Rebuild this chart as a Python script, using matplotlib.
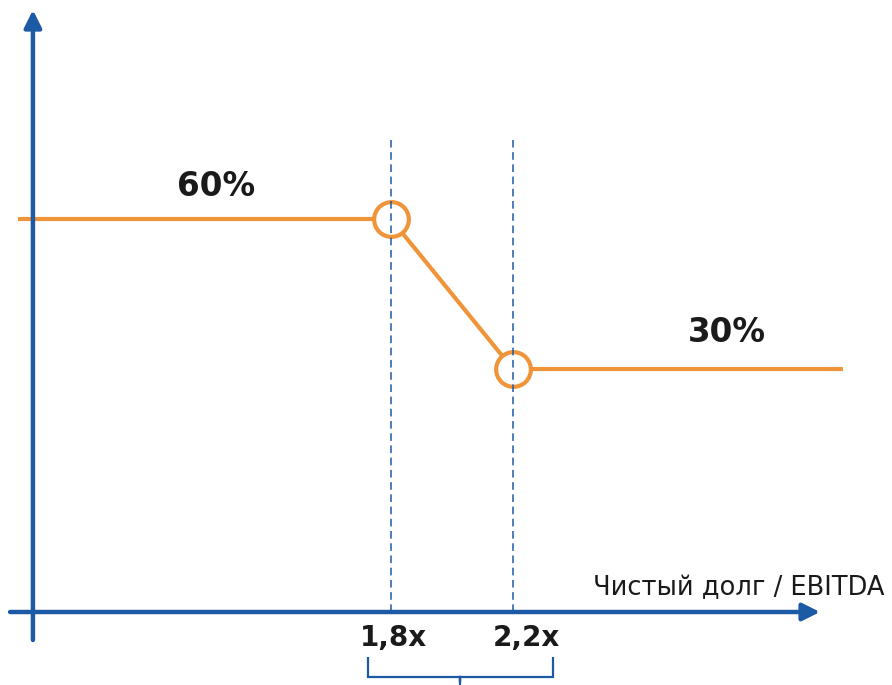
import matplotlib.pyplot as plt
from matplotlib.path import Path
from matplotlib.patches import PathPatch

# Dividend payout ratio vs. net debt / EBITDA
breakpoints = [1.8, 2.2]
payout = [60, 30]
tick_labels = ["1,8x", "2,2x"]
value_labels = ["60%", "30%"]
x_label = "Чистый долг / EBITDA"

BLUE = "#1d5aa6"
ORANGE = "#f0943a"

fig = plt.figure(figsize=(8.92, 6.85), dpi=100)
ax = fig.add_axes([0, 0, 1, 1])
ax.set_xlim(0.518, 3.443)
ax.set_ylim(-33.2, 103.8)
ax.axis("off")

x0, x1 = breakpoints
y_hi, y_lo = payout
x_start, x_end = 0.577, 3.282
axis_x, axis_y = 0.626, -18.6

# axes with arrows
ax.annotate("", xy=(axis_x, 101.8), xytext=(axis_x, -24.2),
            arrowprops=dict(arrowstyle="-|>", color=BLUE, lw=3.2,
                            mutation_scale=26, shrinkA=0, shrinkB=0))
ax.annotate("", xy=(3.207, axis_y), xytext=(0.551, axis_y),
            arrowprops=dict(arrowstyle="-|>", color=BLUE, lw=3.2,
                            mutation_scale=26, shrinkA=0, shrinkB=0))

# dashed guides at the breakpoints (drawn over the circles)
for bx in breakpoints:
    ax.plot([bx, bx], [axis_y, 75.8], color=BLUE, lw=1.1, ls=(0, (5, 3)), zorder=4)

# payout line
ax.plot([x_start, x0, x1, x_end], [y_hi, y_hi, y_lo, y_lo],
        color=ORANGE, lw=3, solid_capstyle="butt", zorder=2)
ax.plot(breakpoints, payout, "o", ms=25, mfc="white", mec=ORANGE, mew=3,
        ls="none", zorder=3)

# value labels
ax.text(1.226, y_hi + 6.5, value_labels[0], fontsize=23.5, fontweight="bold",
        color="#1a1a1a", ha="center", va="center")
ax.text(2.902, y_lo + 7.2, value_labels[1], fontsize=23.5, fontweight="bold",
        color="#1a1a1a", ha="center", va="center")

# tick labels
ax.text(x0 + 0.007, -23.8, tick_labels[0], fontsize=20, fontweight="bold",
        color="#1a1a1a", ha="center", va="center")
ax.text(x1 + 0.043, -23.8, tick_labels[1], fontsize=20, fontweight="bold",
        color="#1a1a1a", ha="center", va="center")

ax.text(3.42, -13.8, x_label, fontsize=18.5, color="#1a1a1a",
        ha="right", va="center")

# brace under the range
bl, br = x0 - 0.075, x1 + 0.131
bm = (bl + br) / 2
yt, yb = -27.6, -31.0
verts = [(bl, yt), (bl, yb), (bl, yb - 0.6), (bl + 0.01, yb - 0.6),
         (bm - 0.01, yb - 0.6), (bm, yb - 0.6), (bm, yb - 1.6),
         (bm, yb - 0.6), (bm + 0.01, yb - 0.6),
         (br - 0.01, yb - 0.6), (br, yb - 0.6), (br, yb), (br, yt)]
codes = [Path.MOVETO] + [Path.LINETO] * (len(verts) - 1)
ax.add_patch(PathPatch(Path(verts, codes), fill=False, edgecolor=BLUE, lw=1.6))
ax.plot([bm, bm], [yb - 0.6, -34], color=BLUE, lw=1.6)

fig.savefig("out.png", dpi=100, facecolor="white")
